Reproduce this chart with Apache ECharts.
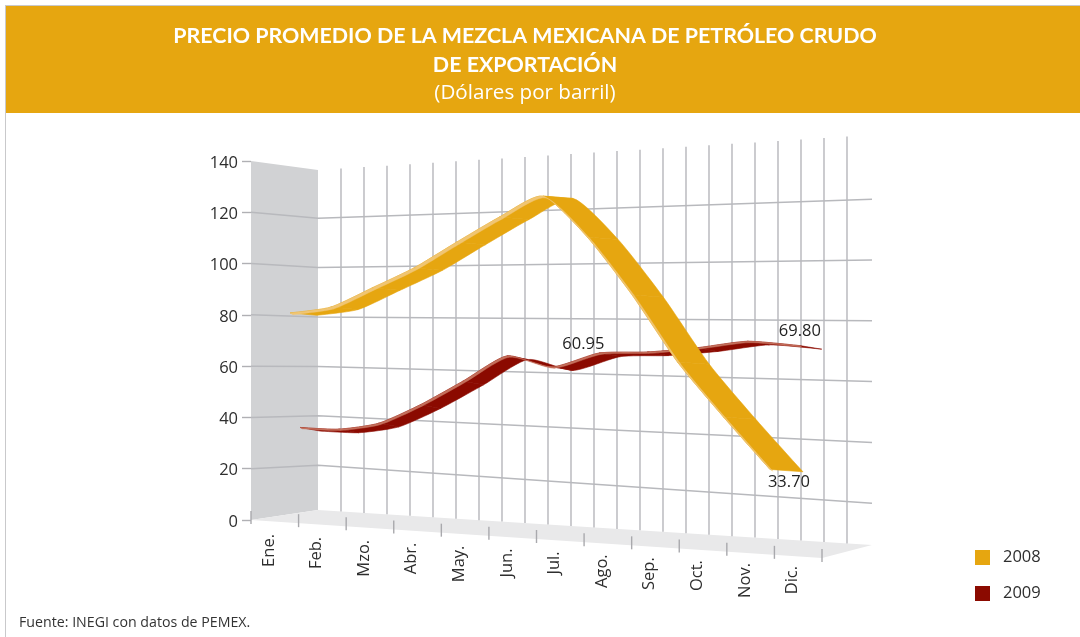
<!DOCTYPE html>
<html><head><meta charset="utf-8">
<style>html,body{margin:0;padding:0;background:#fff}#c{width:1080px;height:637px}</style>
<script src="https://cdn.jsdelivr.net/npm/echarts@6/dist/echarts.min.js"></script>
</head><body><div id="c"></div>
<script>
const categories=['Ene.','Feb.','Mzo.','Abr.','May.','Jun.','Jul.','Ago.','Sep.','Oct.','Nov.','Dic.'];
const serie2008=[81.2,83.2,90,96.7,105,112.7,118.6,104.3,85.4,64.6,48.4,33.7];
const serie2009=[36.3,36.3,39.2,46.5,55.3,64.3,60.95,65.8,66.5,68.2,70.6,69.8];
const yTicks=[0,20,40,60,80,100,120,140];
const wallLines=[20,40,60,80,100,120];
const depthLines=[0,1,2,3,4,5,6,7,8,9,10,11,12,13,14,15,16,17,18,19,20,21,22];
const callouts2008={11:'33.70'};
const callouts2009={6:'60.95',11:'69.80'};

const FONT='"Open Sans",sans-serif';
const G={l:251,t:161,w:571,h:359,b:520};
const INK='#2e2e2e';
const planes={
  a:{x0:290,a:40.4,b:.294,w0:27,w1:33,c:0,body:'#e6a610',light:'#f0c573',lx:3,ly:1.8,dy:2.4},
  b:{x0:300,a:38,b:.676,w0:20,w1:22,c:-4,body:'#8b0a00',light:'#c4705c',lx:2,ly:1.4,dy:3.6}
};
// series plane in perspective: takes a pixel on the flat grid, returns a pixel in the 3D look
function project(p,pl){
  const i=(p[0]-G.l)/G.w*12-.5, t=i/11, v=(G.b-p[1])/G.h*140;
  return {x:pl.x0+pl.a*i+pl.b*i*i, y:(520+65*t)+pl.c*4*t*(1-t)-(2.55+.88*t)*v, t};
}
const TENSION=.32;
function cr(a,b,c,d,s){
  const s2=s*s,s3=s2*s;
  const f=k=>(2*s3-3*s2+1)*b[k]+(s3-2*s2+s)*TENSION*(c[k]-a[k])+(-2*s3+3*s2)*c[k]+(s3-s2)*TENSION*(d[k]-b[k]);
  return {x:f('x'),y:f('y'),t:b.t+(c.t-b.t)*s};
}
function ribbon(values,pl,name,z){
  return {type:'custom',name,coordinateSystem:'cartesian2d',z,
    itemStyle:{color:pl.body},
    data:values.map((v,i)=>[i,v]),
    renderItem(params,api){
      const i=params.dataIndex, n=values.length;
      const P=values.map((v,k)=>project(api.coord([k,v]),pl));
      const children=[];
      if(i<n-1){
        const a=P[Math.max(i-1,0)],b=P[i],c=P[i+1],d=P[Math.min(i+2,n-1)];
        const F=[];for(let s=0;s<=10;s++)F.push(cr(a,b,c,d,s/10));
        const W=q=>pl.w0+(pl.w1-pl.w0)*q.t;
        const body=F.map(q=>[q.x,q.y]).concat(F.slice().reverse().map(q=>[q.x+W(q),q.y+pl.dy]));
        const light=F.map(q=>[q.x,q.y]).concat(F.slice().reverse().map(q=>[q.x+pl.lx,q.y+pl.ly]));
        children.push({type:'polygon',shape:{points:body},style:{fill:pl.body,stroke:pl.body,lineWidth:.6}});
        children.push({type:'polygon',z2:2,shape:{points:light},style:{fill:pl.light,stroke:pl.light,lineWidth:.4}});
      }
      return {type:'group',children};
    }};
}
function calloutSeries(values,pl,callouts,offs,z){
  return {type:'custom',coordinateSystem:'cartesian2d',z,silent:true,
    data:Object.keys(callouts).map(k=>[+k,values[+k]]),
    renderItem(params,api){
      const k=api.value(0),q=project(api.coord([k,api.value(1)]),pl),o=offs[k];
      return {type:'text',style:{text:callouts[k],x:q.x+o[0],y:q.y+o[1],align:'center',verticalAlign:'middle',font:'16.5px '+FONT,fill:'#222'}};
    }};
}
const chart=echarts.init(document.getElementById('c'),null,{renderer:'canvas'});
chart.setOption({
  animation:false,backgroundColor:'#fff',
  graphic:[
    {type:'rect',z:-10,shape:{x:5,y:5,width:1075,height:1},style:{fill:'#c9c9cb'}},
    {type:'rect',z:-10,shape:{x:5,y:5,width:1,height:632},style:{fill:'#c9c9cb'}},
    {type:'rect',z:-9,shape:{x:6,y:6,width:1074,height:107},style:{fill:'#e6a610'}},
    {type:'text',z:5,style:{text:'Fuente: INEGI con datos de PEMEX.',x:19,y:622.5,verticalAlign:'middle',font:'14.2px '+FONT,fill:'#333'}}
  ],
  title:{text:'PRECIO PROMEDIO DE LA MEZCLA MEXICANA DE PETRÓLEO CRUDO\nDE EXPORTACIÓN',
    subtext:'(Dólares por barril)',left:520,textAlign:'center',top:17,itemGap:2,
    textStyle:{color:'#fff',fontFamily:'Lato',fontWeight:'bold',fontSize:21.4,lineHeight:28.5},
    subtextStyle:{color:'#fff',fontFamily:FONT,fontSize:20.6,lineHeight:25}},
  legend:{orient:'vertical',left:970,top:544,itemWidth:15,itemHeight:15,itemGap:19,icon:'rect',data:['2008','2009'],
    textStyle:{color:INK,fontFamily:FONT,fontSize:16.5,padding:[0,0,0,8]},itemStyle:{borderWidth:0},selectedMode:false},
  grid:{left:G.l,top:G.t,width:G.w,height:G.h},
  xAxis:{type:'category',data:categories,axisLine:{show:false},axisTick:{show:false},axisLabel:{show:false}},
  yAxis:{type:'value',min:0,max:140,interval:20,axisLine:{show:false},splitLine:{show:false},
    axisTick:{show:true,length:9,lineStyle:{color:'#b0b0b4',width:1.4}},
    axisLabel:{margin:13,formatter:'{n|{value}}',customValues:yTicks,
      rich:{n:{color:INK,fontFamily:FONT,fontSize:16.5,padding:[4,0,0,0]}}}},
  series:[
    {type:'custom',coordinateSystem:'cartesian2d',z:1,silent:true,data:[[0,0]],
      renderItem(params,api){
        const top=api.coord([0,140])[1],bot=api.coord([0,0])[1];
        return {type:'group',children:[
          {type:'polygon',shape:{points:[[G.l,top],[318,170],[318,510],[G.l,bot]]},style:{fill:'#d1d2d4'}},
          {type:'polygon',shape:{points:[[G.l,bot],[318,510],[872,545],[822,558]]},style:{fill:'#e9e9ea'}}
        ]};
      }},
    {type:'custom',coordinateSystem:'cartesian2d',z:2,silent:true,data:depthLines.map(k=>[0,k]),
      renderItem(params,api){
        const x=341+23*api.value(1),s=(x-318)/554;
        return {type:'line',shape:{x1:x,y1:170-35*s,x2:x,y2:510+35*s},style:{stroke:'#bfbfc3',lineWidth:1.6}};
      }},
    {type:'custom',coordinateSystem:'cartesian2d',z:3,silent:true,data:wallLines.map(v=>[0,v]),
      renderItem(params,api){
        const v=api.value(1),f=api.coord([0,v])[1];
        return {type:'polyline',shape:{points:[[G.l,f],[318,514.6-2.47*v],[872,564-3.04*v]]},style:{fill:'none',stroke:'#b8b9bd',lineWidth:1.5}};
      }},
    {type:'custom',coordinateSystem:'cartesian2d',z:3,silent:true,data:[0,1,2,3,4,5,6,7,8,9,10,11,12].map(k=>[0,k]),
      renderItem(params,api){
        const k=api.value(1),x=G.l+G.w*k/12,y=520+38*k/12;
        return {type:'line',shape:{x1:x,y1:y-9,x2:x,y2:y+4},style:{stroke:'#a9a9ad',lineWidth:1.4}};
      }},
    {type:'custom',coordinateSystem:'cartesian2d',z:3,silent:true,data:categories.map((c,i)=>[i,0]),
      renderItem(params,api){
        const i=api.value(0),u=api.coord([i,0])[0];
        return {type:'text',x:u-5.8,y:534+2.9*i,rotation:Math.PI/2,
          style:{text:categories[i],x:0,y:0,align:'right',verticalAlign:'middle',font:'16.5px '+FONT,fill:INK}};
      }},
    ribbon(serie2009,planes.b,'2009',5),
    ribbon(serie2008,planes.a,'2008',6),
    calloutSeries(serie2008,planes.a,callouts2008,{11:[19,13]},8),
    calloutSeries(serie2009,planes.b,callouts2009,{6:[31,-23],11:[0,-14]},8)
  ]
});
</script></body></html>
